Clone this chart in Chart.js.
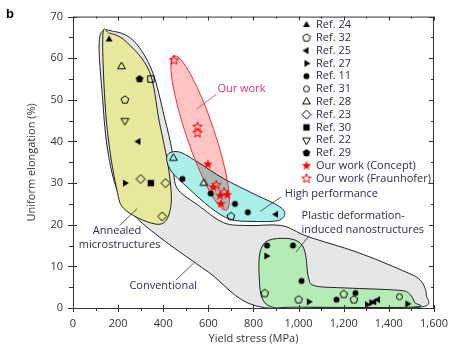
<!DOCTYPE html>
<html>
<head>
<meta charset="utf-8">
<script src="https://cdn.jsdelivr.net/npm/chart.js@4.4.1/dist/chart.umd.min.js"></script>
<style>
  body { margin: 0; background: #fff; }
  canvas { display: block; }
</style>
</head>
<body>
<canvas id="chart" width="457" height="352"></canvas>
<script>
// ---- axes ----
const xTicks = [0, 200, 400, 600, 800, 1000, 1200, 1400, 1600];
const xMinor = [100, 300, 500, 700, 900, 1100, 1300, 1500];
const yTicks = [0, 10, 20, 30, 40, 50, 60, 70];
const yMinor = [5, 15, 25, 35, 45, 55, 65];

// ---- data: [yield stress (MPa), uniform elongation (%)] ----
const ref24 = [[160, 64.5]];
const ref32 = [[230, 50], [700, 22], [850, 3.5], [1000, 2], [1200, 3.3], [1245, 2]];
const ref25 = [[290, 40], [900, 22.5], [1335, 1.5], [1352, 2]];
const ref27 = [[230, 30], [857, 12.5], [1045, 1.5], [1303, 0.8], [1322, 1.3], [1482, 1]];
const ref11 = [[485, 31], [610, 27.5], [718, 25], [775, 23], [860, 15], [975, 15], [1013, 6.5], [1168, 2], [1252, 3.6]];
const ref31 = [[1447, 2.7]];
const ref28 = [[215, 58], [445, 36], [580, 30]];
const ref23 = [[300, 31], [410, 30], [395, 22]];
const ref30 = [[345, 30]];
const ref22 = [[230, 45]];
const ref29 = [[295, 55]];
const ourConcept = [[598, 34.5], [622, 29], [652, 27], [684, 27.2], [656, 25]];
const ourFraunhofer = [[447, 59.5], [552, 43.5], [552, 42], [635, 29.5], [670, 27.8]];
const openSquare = [[345, 55]];

// ---- shaded regions (outline points in data units) ----
const conventional = [[118, 65], [132, 49.7], [154, 37.8], [197, 28.2], [272, 22.2], [404, 16.2], [601, 8.6],
  [811, 0.5], [1171, 0.2], [1539, 0.2], [1566, 3.1], [1539, 6.7], [1456, 9.1], [1259, 13.4], [1039, 17.2],
  [925, 19.8], [776, 19.8], [667, 20.5], [557, 24.6], [469, 28.2], [447, 31.8], [439, 37.7], [404, 46.1],
  [351, 56.9], [272, 64], [184, 66.4]];
const annealed = [[132, 65.2], [148, 44.9], [192, 29], [235, 23.4], [382, 20.1], [433, 24.2], [425, 33],
  [382, 44.9], [338, 56.9], [235, 64], [162, 66]];
const highPerf = [[417, 36.6], [469, 37.5], [557, 34.9], [667, 31.1], [798, 27.5], [908, 24.6], [939, 22.7],
  [908, 21], [798, 20.8], [697, 21.3], [610, 24.1], [513, 28.7], [434, 33]];
const plastic = [[829, 13.4], [864, 16.2], [952, 16.7], [1009, 15.5], [1031, 12.7], [1044, 7.2], [1075, 5.3],
  [1215, 4.8], [1434, 4.3], [1487, 3.6], [1513, 1.4], [1500, 0.2], [996, 0.2], [886, 0.2], [838, 2.4], [825, 7.9]];
const ourWorkEnds = [[448, 60.6], [679, 23.5]];

const FONT = '"Open Sans", "Noto Sans", sans-serif';
const INK = '#2b2b55';

// ---- marker images ----
function marker(shape, filled, color, size, rot) {
  const c = document.createElement('canvas');
  c.width = c.height = size;
  const g = c.getContext('2d');
  const m = size / 2, r = size / 2 - 1;
  const poly = (n, rad, start) => {
    for (let i = 0; i < n; i++) {
      const a = (start + i * 360 / n) * Math.PI / 180;
      const rr = Array.isArray(rad) ? rad[i % 2] : rad;
      const px = m + rr * Math.cos(a), py = m + rr * Math.sin(a);
      i ? g.lineTo(px, py) : g.moveTo(px, py);
    }
    g.closePath();
  };
  g.beginPath();
  if (shape === 'tri') poly(3, r, -90 + (rot || 0));
  else if (shape === 'circle') g.arc(m, m, r * 0.85, 0, Math.PI * 2);
  else if (shape === 'pent') poly(5, r, -90);
  else if (shape === 'diamond') poly(4, r, -90);
  else if (shape === 'square') g.rect(m - r * 0.8, m - r * 0.8, r * 1.6, r * 1.6);
  else if (shape === 'star') poly(10, [r, r * 0.42], -90);
  if (filled) { g.fillStyle = color; g.fill(); }
  else { g.strokeStyle = color; g.lineWidth = 1; g.stroke(); }
  return c;
}

// rot: 0 = up, 30 = left, 60 = down, 90 = right
const series = [
  { label: 'Ref. 24', data: ref24, img: marker('tri', true, '#000', 10, 0) },
  { label: 'Ref. 32', data: ref32, img: marker('pent', false, '#000', 10) },
  { label: 'Ref. 25', data: ref25, img: marker('tri', true, '#000', 10, 30) },
  { label: 'Ref. 27', data: ref27, img: marker('tri', true, '#000', 10, 90) },
  { label: 'Ref. 11', data: ref11, img: marker('circle', true, '#000', 9) },
  { label: 'Ref. 31', data: ref31, img: marker('circle', false, '#000', 9) },
  { label: 'Ref. 28', data: ref28, img: marker('tri', false, '#000', 11, 0) },
  { label: 'Ref. 23', data: ref23, img: marker('diamond', false, '#000', 11) },
  { label: 'Ref. 30', data: ref30, img: marker('square', true, '#000', 10) },
  { label: 'Ref. 22', data: ref22, img: marker('tri', false, '#000', 11, 60) },
  { label: 'Ref. 29', data: ref29, img: marker('pent', true, '#000', 10) },
  { label: 'Our work (Concept)', data: ourConcept, img: marker('star', true, '#ff0000', 12) },
  { label: 'Our work (Fraunhofer)', data: ourFraunhofer, img: marker('star', false, '#ff0000', 12) },
  { label: '', data: openSquare, img: marker('square', false, '#000', 10), noLegend: true }
];

function smoothPath(ctx, pts) {
  const n = pts.length;
  ctx.moveTo(pts[0][0], pts[0][1]);
  for (let i = 0; i < n; i++) {
    const p0 = pts[(i - 1 + n) % n], p1 = pts[i], p2 = pts[(i + 1) % n], p3 = pts[(i + 2) % n];
    ctx.bezierCurveTo(p1[0] + (p2[0] - p0[0]) / 6, p1[1] + (p2[1] - p0[1]) / 6,
      p2[0] - (p3[0] - p1[0]) / 6, p2[1] - (p3[1] - p1[1]) / 6, p2[0], p2[1]);
  }
  ctx.closePath();
}

const regionPlugin = {
  id: 'regions',
  beforeDatasetsDraw(chart) {
    const { ctx, chartArea: a, scales: { x, y } } = chart;
    const toPx = pts => pts.map(p => [x.getPixelForValue(p[0]), y.getPixelForValue(p[1])]);
    ctx.save();
    ctx.beginPath();
    ctx.rect(a.left, a.top, a.right - a.left, a.bottom - a.top);
    ctx.clip();
    ctx.lineWidth = 1;
    [[conventional, '#e6e6e6'], [annealed, '#e8e89c'], [highPerf, '#a9f0eb'], [plastic, '#b5ecb5']].forEach(([pts, col]) => {
      ctx.beginPath();
      smoothPath(ctx, toPx(pts));
      ctx.fillStyle = col;
      ctx.fill();
      ctx.strokeStyle = '#222';
      ctx.stroke();
    });
    // "our work" ellipse
    const [t, b] = toPx(ourWorkEnds);
    const cx = (t[0] + b[0]) / 2, cy = (t[1] + b[1]) / 2;
    const len = Math.hypot(b[0] - t[0], b[1] - t[1]) / 2;
    const ang = Math.atan2(b[1] - t[1], b[0] - t[0]);
    ctx.beginPath();
    ctx.ellipse(cx, cy, len, 14, ang, 0, Math.PI * 2);
    ctx.globalCompositeOperation = 'multiply';
    ctx.fillStyle = '#ffc4c4';
    ctx.fill();
    ctx.globalCompositeOperation = 'source-over';
    ctx.strokeStyle = '#ff2a2a';
    ctx.stroke();
    ctx.restore();
  }
};

// annotations: text anchor + leader line, in data units
const notes = [
  { lines: ['Our work'], at: [640, 52.6], from: [636, 51.4], to: [548, 47.8], color: '#ee2d6a' },
  { lines: ['High performance'], at: [939, 27.5], from: [921, 26.6], to: [829, 23.2], color: INK },
  { lines: ['Plastic deformation-', 'induced nanostructures'], at: [1013, 22.2], from: [1047, 17.4], to: [988, 13.4], color: INK },
  { lines: ['Annealed', 'microstructures'], at: [88, 18.6], indent: [0, -14], from: [206, 19.8], to: [285, 23.9], color: INK },
  { lines: ['Conventional'], at: [250, 5.3], from: [456, 6.7], to: [535, 10.8], color: INK }
];

const framePlugin = {
  id: 'frame',
  afterDraw(chart) {
    const { ctx, chartArea: a, scales: { x, y } } = chart;
    ctx.save();
    // leader lines & labels
    ctx.font = '11px ' + FONT;
    ctx.textBaseline = 'middle';
    notes.forEach(n => {
      ctx.strokeStyle = n.color === INK ? '#333' : n.color;
      ctx.lineWidth = 0.8;
      ctx.beginPath();
      ctx.moveTo(x.getPixelForValue(n.from[0]), y.getPixelForValue(n.from[1]));
      ctx.lineTo(x.getPixelForValue(n.to[0]), y.getPixelForValue(n.to[1]));
      ctx.stroke();
      ctx.fillStyle = n.color;
      n.lines.forEach((s, i) => {
        ctx.fillText(s, x.getPixelForValue(n.at[0]) + (n.indent ? n.indent[i] : 0), y.getPixelForValue(n.at[1]) + i * 14);
      });
    });
    // frame
    ctx.strokeStyle = '#333';
    ctx.lineWidth = 1;
    ctx.strokeRect(a.left + 0.5, a.top + 0.5, a.right - a.left - 1, a.bottom - a.top);
    ctx.beginPath();
    xTicks.forEach(v => {
      const px = Math.round(x.getPixelForValue(v)) + 0.5;
      ctx.moveTo(px, a.bottom - 3); ctx.lineTo(px, a.bottom + 4);
      ctx.moveTo(px, a.top); ctx.lineTo(px, a.top + 4);
    });
    xMinor.forEach(v => {
      const px = Math.round(x.getPixelForValue(v)) + 0.5;
      ctx.moveTo(px, a.bottom); ctx.lineTo(px, a.bottom + 3);
      ctx.moveTo(px, a.top); ctx.lineTo(px, a.top + 2);
    });
    yTicks.forEach(v => {
      const py = Math.round(y.getPixelForValue(v)) + 0.5;
      ctx.moveTo(a.left - 5, py); ctx.lineTo(a.left + 4, py);
      ctx.moveTo(a.right, py); ctx.lineTo(a.right - 5, py);
    });
    yMinor.forEach(v => {
      const py = Math.round(y.getPixelForValue(v)) + 0.5;
      ctx.moveTo(a.left - 4, py); ctx.lineTo(a.left, py);
      ctx.moveTo(a.right, py); ctx.lineTo(a.right - 3, py);
    });
    ctx.stroke();
    // axis titles
    ctx.fillStyle = '#333';
    ctx.textAlign = 'center';
    ctx.fillText('Yield stress (MPa)', (a.left + a.right) / 2, 339);
    ctx.save();
    ctx.translate(32, (a.top + a.bottom) / 2);
    ctx.rotate(-Math.PI / 2);
    ctx.fillText('Uniform elongation (%)', 0, 0);
    ctx.restore();
    ctx.font = 'bold 13px "Liberation Sans", Arial, sans-serif';
    ctx.fillStyle = '#000';
    ctx.fillText('b', 10, 14);
    // legend
    ctx.font = '11px ' + FONT;
    ctx.textAlign = 'left';
    series.filter(s => !s.noLegend).forEach((s, i) => {
      const ly = 25 + i * 12.8;
      ctx.drawImage(s.img, 306.5 - s.img.width / 2, ly - s.img.height / 2);
      ctx.fillStyle = INK;
      ctx.fillText(s.label, 316, ly);
    });
    ctx.restore();
  }
};

const tickFont = { family: FONT, size: 11 };

new Chart(document.getElementById('chart'), {
  type: 'scatter',
  data: {
    datasets: series.map(s => ({
      label: s.label,
      data: s.data.map(p => ({ x: p[0], y: p[1] })),
      pointStyle: s.img,
      pointRadius: 4,
      pointHoverRadius: 4
    }))
  },
  options: {
    responsive: false,
    animation: false,
    layout: { padding: { left: 0, top: 15, right: 19, bottom: 0 } },
    plugins: { legend: { display: false }, tooltip: { enabled: false } },
    scales: {
      x: {
        type: 'linear', min: 0, max: 1600,
        afterBuildTicks: s => { s.ticks = xTicks.map(v => ({ value: v })); },
        afterFit: s => { s.height = 44; },
        grid: { display: false, drawTicks: false },
        border: { display: false },
        ticks: { font: tickFont, color: '#333', padding: 9, maxRotation: 0, callback: v => v.toLocaleString('en-US') }
      },
      y: {
        type: 'linear', min: 0, max: 70,
        afterBuildTicks: s => { s.ticks = yTicks.map(v => ({ value: v })); },
        afterFit: s => { s.width = 73; },
        grid: { display: false, drawTicks: false },
        border: { display: false },
        ticks: { font: tickFont, color: '#333', padding: 10 }
      }
    }
  },
  plugins: [regionPlugin, framePlugin]
});
</script>
</body>
</html>
